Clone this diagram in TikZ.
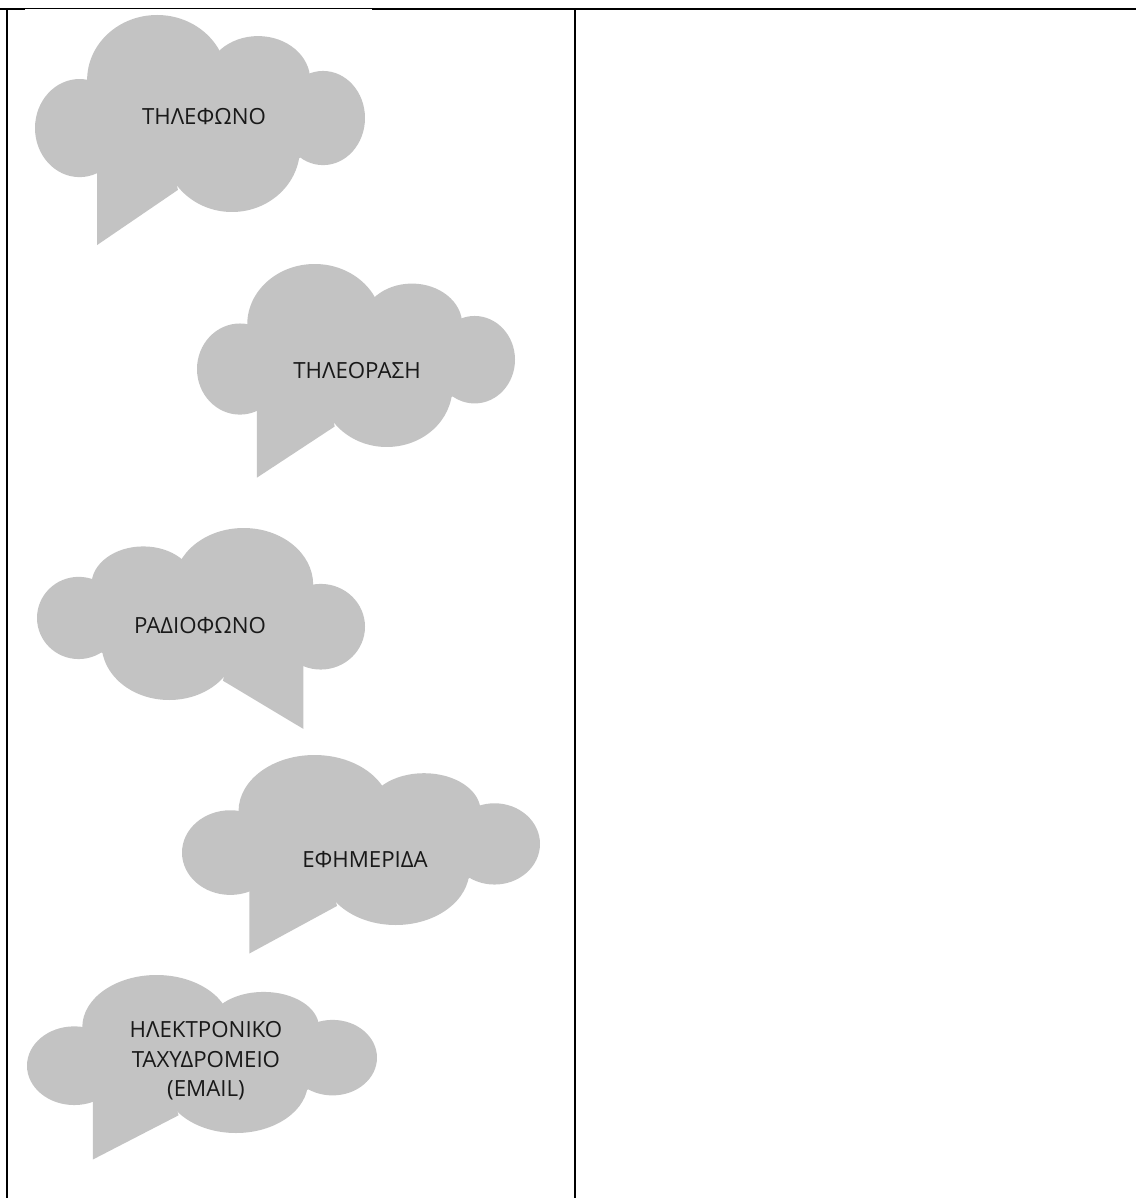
\documentclass[tikz,border=0pt]{standalone}
\usepackage{fontspec}
\setmainfont{Open Sans}
\definecolor{cloudgray}{RGB}{195,195,195}
\tikzset{
  lobe/.style={fill=cloudgray, draw=none},
  border/.style={line width=1.5pt, draw=black},
  cloudtext/.style={font=\fontsize{16.7}{22}\selectfont, text=black!90, inner sep=0pt, anchor=base},
}
% normalized cloud body: box [0,1]x[0,1], wedge tip below left
\newcommand{\mycloudbody}{%
  \fill[lobe] (0.370,0.330) ellipse [x radius=0.212, y radius=0.330];
  \fill[lobe] (0.676,0.330) ellipse [x radius=0.158, y radius=0.223];
  \fill[lobe] (0.873,0.523) ellipse [x radius=0.127, y radius=0.239];
  \fill[lobe] (0.135,0.574) ellipse [x radius=0.135, y radius=0.249];
  \fill[lobe] (0.597,0.675) ellipse [x radius=0.206, y radius=0.325];
  \fill[lobe] (0.500,0.533) ellipse [x radius=0.385, y radius=0.310];
  \fill[lobe] (0.188,0.736) -- (0.188,1.168) -- (0.433,0.888) -- (0.409,0.685) -- cycle;
}
\begin{document}
\begin{tikzpicture}[x=0.75pt, y=-0.75pt]
\useasboundingbox (0,0) rectangle (1136,1198);
% table borders
\draw[border] (0,9) -- (1136,9);
\draw[border] (7,9) -- (7,1198);
\draw[border] (575,9) -- (575,1198);
\fill[white] (25,9.1) rectangle (372,10.6);
% clouds
\begin{scope}[shift={(35,15)}, xscale=330, yscale=197] \mycloudbody \end{scope}
\begin{scope}[shift={(197,264)}, xscale=318, yscale=183] \mycloudbody \end{scope}
\begin{scope}[shift={(365,528)}, xscale=-328, yscale=172] \mycloudbody \end{scope}
\begin{scope}[shift={(182,755)}, xscale=358, yscale=170] \mycloudbody \end{scope}
\begin{scope}[shift={(27,975)}, xscale=350, yscale=158] \mycloudbody \end{scope}
% labels
\node[cloudtext] (t1) at (204,125) {ΤΗΛΕΦΩΝΟ};
\node[cloudtext] (t2) at (357,378) {ΤΗΛΕΟΡΑΣΗ};
\node[cloudtext] (t3) at (200,633) {ΡΑΔΙΟΦΩΝΟ};
\node[cloudtext] (t4) at (365,867) {ΕΦΗΜΕΡΙΔΑ};
\node[cloudtext] (t5a) at (206,1037) {ΗΛΕΚΤΡΟΝΙΚΟ};
\node[cloudtext] (t5b) at (206,1067) {ΤΑΧΥΔΡΟΜΕΙΟ};
\node[cloudtext] (t5c) at (206,1096) {(EMAIL)};
\end{tikzpicture}
\end{document}
